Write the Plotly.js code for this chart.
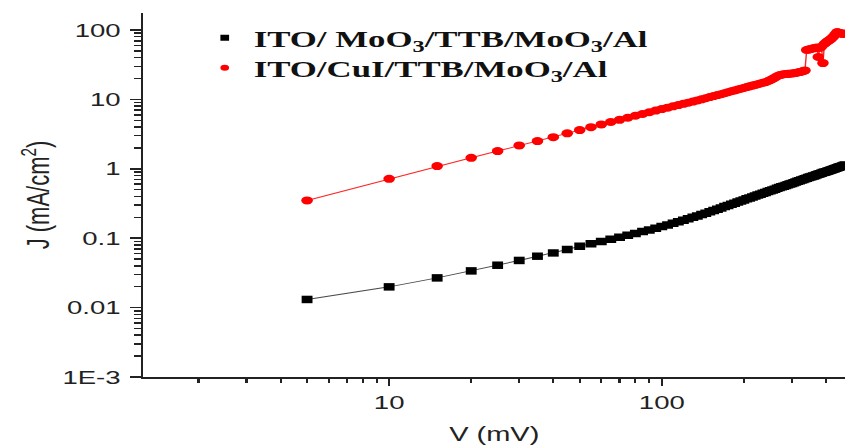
<!DOCTYPE html>
<html>
<head>
<meta charset="utf-8">
<script src="https://cdn.plot.ly/plotly-3.0.1.min.js"></script>
<style>
  html, body { margin: 0; padding: 0; background: #fff; overflow: hidden; }
  #chart { width: 583px; height: 445px; transform: scaleX(1.4494); transform-origin: 0 0; }
</style>
</head>
<body>
<div id="chart"></div>
<script>
// Voltage (mV)
const voltage_mV = [5,10,15,20,25,30,35,40,45,50,55,60,65,70,75,80,85,90,95,100,
  105,110,115,120,125,130,135,140,145,150,155,160,165,170,175,180,185,190,195,200,
  205,210,215,220,225,230,235,240,245,250,255,260,265,270,275,280,285,290,295,300,
  305,310,315,320,325,330,335,340,345,350,355,360,365,370,375,380,385,390,395,400,
  405,410,415,420,425,430,435,440,445,450,455,460,465,470];

// J (mA/cm2) for ITO/ MoO3/TTB/MoO3/Al
const J_MoO3 = [0.0131,0.0199,0.0268,0.0338,0.0408,0.0478,0.0551,0.0614,0.0687,0.0767,
  0.0832,0.0897,0.0964,0.1033,0.1102,0.1172,0.1245,0.1318,0.1396,0.1476,
  0.1556,0.1641,0.1726,0.1816,0.1905,0.2000,0.2094,0.2193,0.2296,0.2404,
  0.2512,0.2624,0.2735,0.2851,0.2965,0.3083,0.3199,0.3319,0.3443,0.3565,
  0.3690,0.3811,0.3936,0.4064,0.4188,0.4315,0.4446,0.4571,0.4699,0.4831,
  0.4966,0.5093,0.5224,0.5358,0.5495,0.5623,0.5754,0.5888,0.6026,0.6166,
  0.6310,0.6457,0.6592,0.6730,0.6871,0.7015,0.7161,0.7311,0.7464,0.7603,
  0.7745,0.7889,0.8035,0.8185,0.8337,0.8492,0.8650,0.8810,0.8954,0.9099,
  0.9247,0.9397,0.9550,0.9705,0.9863,1.002,1.019,1.035,1.050,1.067,
  1.081,1.096,1.114,1.130];

// J (mA/cm2) for ITO/CuI/TTB/MoO3/Al
const J_CuI = [0.350,0.717,1.093,1.44,1.80,2.17,2.51,2.86,3.24,3.61,
  3.98,4.36,4.72,5.08,5.44,5.81,6.17,6.53,6.90,7.26,
  7.60,7.94,8.28,8.63,8.97,9.31,9.66,10.02,10.40,10.79,
  11.17,11.53,11.91,12.30,12.71,13.09,13.46,13.87,14.26,14.62,
  15.03,15.42,15.81,16.18,16.60,16.98,17.38,17.74,18.28,18.97,
  19.77,20.65,21.53,22.28,22.75,23.01,23.17,23.33,23.50,23.66,
  23.82,24.10,24.43,24.77,25.12,25.59,26.18,51.5,52.2,52.97,
  53.7,54.5,55.2,56.0,40.8,55.0,57.5,33.4,63.1,66.1,
  68.5,70.8,73.1,75.9,79.4,84.1,89.1,93.3,91.2,90.2,
  89.1,88.1,88.1,89.1];

const seriesNames = ['ITO/ MoO<sub>3</sub>/TTB/MoO<sub>3</sub>/Al', 'ITO/CuI/TTB/MoO<sub>3</sub>/Al'];
const yTickVals = [0.001, 0.01, 0.1, 1, 10, 100];
const yTickText = ['1E-3', '0.01', '0.1', '1', '10', '100'];
const xTickVals = [10, 100];
const xTickText = ['10', '100'];

const traces = [
  { x: voltage_mV, y: J_MoO3, mode: 'lines+markers', showlegend: false,
    line: { color: 'rgba(40,40,40,0.85)', width: 1 },
    marker: { symbol: 'square', size: 7.5, color: '#000' } },
  { x: voltage_mV, y: J_CuI, mode: 'lines+markers', showlegend: false,
    line: { color: 'rgba(255,0,0,0.85)', width: 1 },
    marker: { symbol: 'circle', size: 8, color: '#ff0000' } },
  { x: [null], y: [null], mode: 'markers', name: seriesNames[0], legend: 'legend',
    marker: { symbol: 'square', size: 6, color: '#000' } },
  { x: [null], y: [null], mode: 'markers', name: seriesNames[1], legend: 'legend2',
    marker: { symbol: 'circle', size: 6, color: '#ff0000' } }
];

const axisFont = { family: 'Liberation Sans, Arial, sans-serif', size: 19, color: '#222' };
const legendFont = { family: 'Liberation Serif, Times New Roman, serif', size: 24, color: '#111', weight: 'bold' };

const layout = {
  width: 583, height: 445,
  margin: { l: 99, r: 0, t: 13, b: 68, pad: 0 },
  paper_bgcolor: '#fff', plot_bgcolor: '#fff',
  showlegend: true,
  legend: {
    x: 0.0745, y: 0.993, xanchor: 'left', yanchor: 'top',
    bgcolor: 'rgba(0,0,0,0)', borderwidth: 0, font: legendFont
  },
  legend2: {
    x: 0.0745, y: 0.91, xanchor: 'left', yanchor: 'top',
    bgcolor: 'rgba(0,0,0,0)', borderwidth: 0, font: legendFont
  },
  xaxis: {
    type: 'log', range: [0.099, 2.672],
    tickmode: 'array', tickvals: xTickVals, ticktext: xTickText,
    ticks: 'outside', ticklen: 7, tickwidth: 1.5, tickcolor: '#222',
    showline: true, linewidth: 2, linecolor: '#222', mirror: false,
    showgrid: false, zeroline: false,
    tickfont: axisFont,
    minor: { dtick: 'D1', ticks: 'outside', ticklen: 4, tickwidth: 1.5, tickcolor: '#222', showgrid: false },
    title: { text: 'V (mV)', font: { family: 'Liberation Sans, Arial, sans-serif', size: 20, color: '#222' }, standoff: 16 }
  },
  yaxis: {
    type: 'log', range: [-3, 2.245],
    tickmode: 'array', tickvals: yTickVals, ticktext: yTickText,
    ticks: 'outside', ticklen: 7.5, tickwidth: 1.5, tickcolor: '#222',
    showline: true, linewidth: 1.5, linecolor: '#222', mirror: false,
    showgrid: false, zeroline: false,
    tickfont: axisFont,
    ticklabelstandoff: 3,
    minor: { dtick: 'D1', ticks: 'outside', ticklen: 4.8, tickwidth: 1.5, tickcolor: '#222', showgrid: false },
    title: { text: 'J (mA/cm<sup>2</sup>)', font: { family: 'Liberation Sans, Arial, sans-serif', size: 22, color: '#222' }, standoff: 2 }
  }
};

Plotly.newPlot('chart', traces, layout, { displayModeBar: false, staticPlot: true });
</script>
</body>
</html>
